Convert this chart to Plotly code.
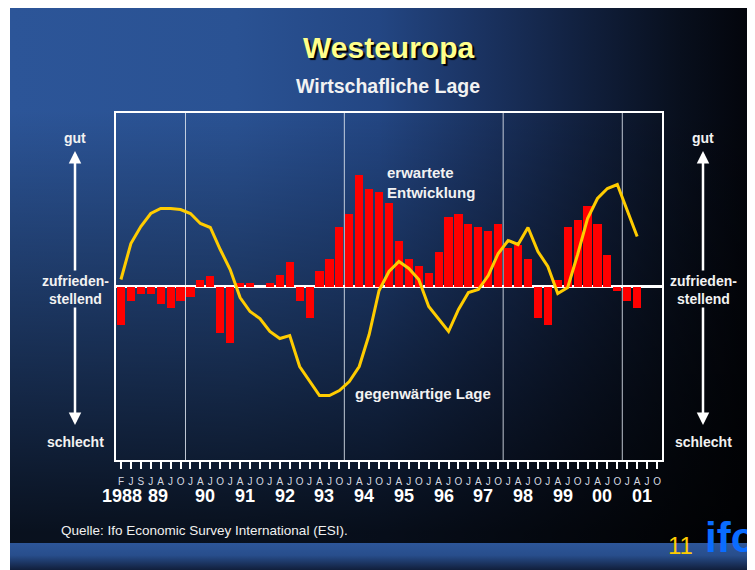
import base64
import plotly.graph_objects as go

# quarterly survey results, Westeuropa, 1988 .. 2001 (balance, chart units)
quarter_labels = ["F", "J", "S"] + ["J", "A", "J", "O"] * 13
year_labels = ["1988", "89", "90", "91", "92", "93", "94", "95", "96", "97", "98", "99", "00", "01"]

erwartete_entwicklung = [
    -38, -14, -7, -7, -17, -21, -14, -10, 7, 11, -46, -56, 4, 4, 0, 4, 12, 25,
    -14, -31, 16, 28, 60, 73, 112, 98, 95, 84, 46, 28, 21, 14, 35, 70, 73, 63,
    60, 56, 63, 39, 42, 28, -31, -38, 7, 60, 67, 81, 63, 32, -4, -14, -21,
]
gegenwaertige_lage = [
    7, 43, 60, 73, 78, 78, 77, 73, 63, 59, 37, 17, -11, -25, -32, -45, -52, -49,
    -80, -95, -109, -109, -104, -95, -80, -48, -4, 15, 25, 18, 7, -20, -32, -45, -23, -6,
    -3, 11, 33, 46, 42, 59, 35, 20, -7, -1, 32, 68, 88, 98, 102, 77, 50,
]

W, H = 755, 570
L, R, T, B = 108, 101, 105, 118
PW, PH = W - L - R, H - T - B
OFF = 8  # page body margin


# helpers take page pixel positions
def fx(px):
    return (px - OFF - L) / PW


def fy(py):
    return (H - B - (py - OFF)) / PH


# slide background: blue to black, darker towards the bottom, blue band at the foot
svg = """<svg xmlns='http://www.w3.org/2000/svg' width='753' height='570' viewBox='0 0 753 570' preserveAspectRatio='none'>
<defs>
<linearGradient id='h' x1='0' y1='0' x2='1' y2='0'>
<stop offset='0' stop-color='#2c5598'/>
<stop offset='0.30' stop-color='#2a5293'/>
<stop offset='0.49' stop-color='#234683'/>
<stop offset='0.63' stop-color='#1a3260'/>
<stop offset='0.76' stop-color='#11203e'/>
<stop offset='0.89' stop-color='#080f1d'/>
<stop offset='1' stop-color='#020308'/>
</linearGradient>
<linearGradient id='v' x1='0' y1='0' x2='0' y2='1'>
<stop offset='0' stop-color='#000' stop-opacity='0'/>
<stop offset='0.18' stop-color='#000' stop-opacity='0'/>
<stop offset='0.92' stop-color='#000' stop-opacity='0.8'/>
<stop offset='1' stop-color='#000' stop-opacity='0.8'/>
</linearGradient>
<linearGradient id='b' x1='0' y1='0' x2='0' y2='1'>
<stop offset='0' stop-color='#2d5699'/>
<stop offset='0.35' stop-color='#284e8c'/>
<stop offset='0.8' stop-color='#0f1b36'/>
<stop offset='1' stop-color='#0c1529'/>
</linearGradient>
</defs>
<rect width='753' height='570' fill='url(#h)'/>
<rect width='753' height='570' fill='url(#v)'/>
<rect y='535' width='753' height='35' fill='url(#b)'/>
</svg>"""
bg_src = "data:image/svg+xml;base64," + base64.b64encode(svg.encode()).decode()

FONT = "Arial, Liberation Sans, sans-serif"

x_vals = list(range(len(erwartete_entwicklung)))

fig = go.Figure()
fig.add_trace(go.Bar(
    x=x_vals,
    y=erwartete_entwicklung,
    marker_color="#ff0000",
    marker_line_width=0,
    width=0.82,
    name="erwartete Entwicklung",
))
fig.add_trace(go.Scatter(
    x=x_vals,
    y=gegenwaertige_lage,
    mode="lines",
    line=dict(color="#ffcc00", width=3),
    name="gegenwärtige Lage",
))

fig.update_layout(
    width=W,
    height=H,
    margin=dict(l=L, r=R, t=T, b=B),
    paper_bgcolor="white",
    plot_bgcolor="rgba(0,0,0,0)",
    showlegend=False,
    bargap=0,
    font=dict(family=FONT, color="white"),
    xaxis=dict(
        range=[-0.5, len(quarter_labels) - 0.5],
        tickvals=list(range(len(quarter_labels))),
        ticktext=quarter_labels,
        ticks="outside",
        ticklen=7,
        tickwidth=2,
        tickcolor="white",
        ticklabelstandoff=4,
        tickfont=dict(size=10, color="#d4d8e0"),
        showline=True,
        linecolor="white",
        linewidth=2,
        mirror=True,
        showgrid=False,
        zeroline=False,
        fixedrange=True,
    ),
    yaxis=dict(
        range=[-173.5, 173.5],
        showticklabels=False,
        ticks="",
        showgrid=False,
        zeroline=True,
        zerolinecolor="white",
        zerolinewidth=2.5,
        showline=True,
        linecolor="white",
        linewidth=2,
        mirror=True,
        fixedrange=True,
    ),
    images=[dict(
        source=bg_src,
        xref="paper", yref="paper",
        x=fx(10), y=fy(8),
        sizex=753 / PW, sizey=570 / PH,
        xanchor="left", yanchor="top",
        sizing="stretch",
        layer="below",
    )],
)

# period separators
for xb in [6.5, 22.5, 38.5, 50.5]:
    fig.add_shape(type="line", x0=xb, x1=xb, y0=0, y1=1, xref="x", yref="paper",
                  line=dict(color="rgba(225,230,240,0.85)", width=1), layer="below")

annotations = []


def label(text, px, py, size, color="#f2f2f2", bold=True, xanchor="center", shadow=None):
    f = dict(size=size, color=color, family=FONT, weight="bold" if bold else "normal")
    if shadow:
        f["shadow"] = shadow
    annotations.append(dict(text=text, x=fx(px), y=fy(py), xref="paper", yref="paper",
                            showarrow=False, xanchor=xanchor, yanchor="middle", font=f,
                            align="left" if xanchor == "left" else "center"))


label("Westeuropa", 388, 47, 30, color="#ffff8c", shadow="2px 2px 1px #000000")
label("Wirtschafliche Lage", 388, 86, 19.5)

label("erwartete<br>Entwicklung", 385, 182, 15, xanchor="left")
label("gegenwärtige Lage", 353, 393, 15, xanchor="left")

for cx in [75, 703]:
    label("gut", cx, 138, 14)
    label("zufrieden-<br>stellend", cx, 290, 14)
    label("schlecht", cx, 442, 14)
    annotations.append(dict(x=fx(cx), y=fy(151), xref="paper", yref="paper", text="",
                            showarrow=True, ax=0, ay=121, arrowhead=2, arrowsize=1,
                            arrowwidth=2.5, arrowcolor="white"))
    annotations.append(dict(x=fx(cx), y=fy(425), xref="paper", yref="paper", text="",
                            showarrow=True, ax=0, ay=-119, arrowhead=2, arrowsize=1,
                            arrowwidth=2.5, arrowcolor="white"))

# year labels below the quarter letters
for i, yl in enumerate(year_labels):
    if i == 0:
        xpos = 0.1
    elif i == 1:
        xpos = 3.7
    else:
        xpos = 7 + 4 * (i - 2) + 1.5
    annotations.append(dict(text=yl, x=xpos, y=fy(496), xref="x", yref="paper",
                            showarrow=False, xanchor="center", yanchor="middle",
                            font=dict(size=18, color="white", family=FONT, weight="bold")))

label("Quelle: Ifo Economic Survey International (ESI).", 59, 530, 13.5,
      color="#f0f0f0", bold=False, xanchor="left")
label("11", 680, 545, 24, color="#ffcc00", bold=False)
label("ifo", 703, 537, 42, color="#0a6cff", xanchor="left")

fig.update_layout(annotations=annotations)

fig.write_html("out.html")
